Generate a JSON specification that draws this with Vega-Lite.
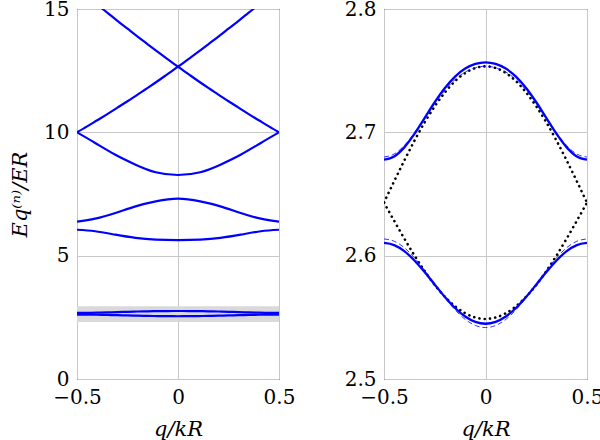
{
  "$schema": "https://vega.github.io/schema/vega-lite/v6.json",
  "background": "white",
  "padding": {"left": 9, "top": -2, "right": 5, "bottom": 0},
  "datasets": {
    "grid": [
      {"q": -0.5, "U": 2.6778, "L": 2.6103, "DU": 2.68, "DL": 2.6136, "TU": 2.643, "TL": 2.643, "A": 15.87, "B": 10.0},
      {"q": -0.45, "U": 2.6804, "L": 2.6086, "DU": 2.6824, "DL": 2.6117, "TU": 2.6603, "TL": 2.6283, "A": 15.52, "B": 10.24},
      {"q": -0.4, "U": 2.6878, "L": 2.6037, "DU": 2.6893, "DL": 2.6065, "TU": 2.6771, "TL": 2.6139, "A": 15.18, "B": 10.49},
      {"q": -0.35, "U": 2.6987, "L": 2.5961, "DU": 2.6996, "DL": 2.5983, "TU": 2.6932, "TL": 2.6002, "A": 14.85, "B": 10.74},
      {"q": -0.3, "U": 2.7115, "L": 2.5867, "DU": 2.7115, "DL": 2.5882, "TU": 2.708, "TL": 2.5876, "A": 14.52, "B": 11.0},
      {"q": -0.25, "U": 2.7244, "L": 2.5765, "DU": 2.7235, "DL": 2.577, "TU": 2.7211, "TL": 2.5763, "A": 14.2, "B": 11.26},
      {"q": -0.2, "U": 2.7359, "L": 2.5665, "DU": 2.7342, "DL": 2.566, "TU": 2.7324, "TL": 2.5667, "A": 13.88, "B": 11.53},
      {"q": -0.15, "U": 2.7452, "L": 2.5576, "DU": 2.7428, "DL": 2.5561, "TU": 2.7415, "TL": 2.559, "A": 13.57, "B": 11.8},
      {"q": -0.1, "U": 2.7517, "L": 2.5507, "DU": 2.7489, "DL": 2.5483, "TU": 2.7481, "TL": 2.5533, "A": 13.26, "B": 12.08},
      {"q": -0.05, "U": 2.7555, "L": 2.5463, "DU": 2.7524, "DL": 2.5434, "TU": 2.7521, "TL": 2.5499, "A": 12.96, "B": 12.37},
      {"q": 0, "U": 2.7568, "L": 2.5448, "DU": 2.7536, "DL": 2.5417, "TU": 2.7535, "TL": 2.5487, "A": 12.66, "B": 12.66},
      {"q": 0.05, "U": 2.7555, "L": 2.5463, "DU": 2.7524, "DL": 2.5434, "TU": 2.7521, "TL": 2.5499, "A": 12.37, "B": 12.96},
      {"q": 0.1, "U": 2.7517, "L": 2.5507, "DU": 2.7489, "DL": 2.5483, "TU": 2.7481, "TL": 2.5533, "A": 12.08, "B": 13.26},
      {"q": 0.15, "U": 2.7452, "L": 2.5576, "DU": 2.7428, "DL": 2.5561, "TU": 2.7415, "TL": 2.559, "A": 11.8, "B": 13.57},
      {"q": 0.2, "U": 2.7359, "L": 2.5665, "DU": 2.7342, "DL": 2.566, "TU": 2.7324, "TL": 2.5667, "A": 11.53, "B": 13.88},
      {"q": 0.25, "U": 2.7244, "L": 2.5765, "DU": 2.7235, "DL": 2.577, "TU": 2.7211, "TL": 2.5763, "A": 11.26, "B": 14.2},
      {"q": 0.3, "U": 2.7115, "L": 2.5867, "DU": 2.7115, "DL": 2.5882, "TU": 2.708, "TL": 2.5876, "A": 11.0, "B": 14.52},
      {"q": 0.35, "U": 2.6987, "L": 2.5961, "DU": 2.6996, "DL": 2.5983, "TU": 2.6932, "TL": 2.6002, "A": 10.74, "B": 14.85},
      {"q": 0.4, "U": 2.6878, "L": 2.6037, "DU": 2.6893, "DL": 2.6065, "TU": 2.6771, "TL": 2.6139, "A": 10.49, "B": 15.18},
      {"q": 0.45, "U": 2.6804, "L": 2.6086, "DU": 2.6824, "DL": 2.6117, "TU": 2.6603, "TL": 2.6283, "A": 10.24, "B": 15.52},
      {"q": 0.5, "U": 2.6778, "L": 2.6103, "DU": 2.68, "DL": 2.6136, "TU": 2.643, "TL": 2.643, "A": 10.0, "B": 15.87}
    ],
    "bands": [
      {"q": -0.5, "b3": 6.05, "b4": 6.38, "b5": 10.0},
      {"q": -0.41, "b3": 5.99, "b4": 6.5, "b5": 9.57},
      {"q": -0.31, "b3": 5.85, "b4": 6.73, "b5": 9.09},
      {"q": -0.21, "b3": 5.72, "b4": 7.0, "b5": 8.69},
      {"q": -0.11, "b3": 5.65, "b4": 7.2, "b5": 8.38},
      {"q": 0, "b3": 5.63, "b4": 7.31, "b5": 8.27},
      {"q": 0.11, "b3": 5.65, "b4": 7.2, "b5": 8.38},
      {"q": 0.21, "b3": 5.72, "b4": 7.0, "b5": 8.69},
      {"q": 0.31, "b3": 5.85, "b4": 6.73, "b5": 9.09},
      {"q": 0.41, "b3": 5.99, "b4": 6.5, "b5": 9.57},
      {"q": 0.5, "b3": 6.05, "b4": 6.38, "b5": 10.0}
    ],
    "zoombox": [
      {"q": -0.5, "q1": 0.5, "E": 2.31, "E1": 2.95}
    ]
  },
  "config": {
    "font": "DejaVu Serif",
    "view": {"stroke": "black", "strokeWidth": 1},
    "axis": {
      "domain": false,
      "ticks": false,
      "grid": true,
      "gridColor": "#c8c8c8",
      "gridWidth": 1,
      "labelFont": "DejaVu Serif",
      "labelFontSize": 20,
      "labelColor": "black",
      "labelPadding": 8,
      "labelFlush": false,
      "titleFont": "DejaVu Serif",
      "titleFontSize": 21,
      "titleFontWeight": "normal",
      "titleFontStyle": "italic",
      "titleColor": "black"
    },
    "axisX": {"titlePadding": 11},
    "concat": {"spacing": 47}
  },
  "hconcat": [
    {
      "width": 202,
      "height": 370,
      "layer": [
        {
          "data": {"name": "zoombox"},
          "mark": {"type": "rect", "color": "#d9d9d9"},
          "encoding": {
            "x": {"field": "q", "type": "quantitative", "scale": {"domain": [-0.5, 0.5], "nice": false}, "axis": {"values": [-0.5, 0, 0.5], "format": "~g", "title": "q/kR"}},
            "x2": {"field": "q1"},
            "y": {"field": "E", "type": "quantitative", "scale": {"domain": [0, 15], "nice": false}, "axis": {"values": [0, 5, 10, 15], "format": "~g", "title": "Eq⁽ⁿ⁾/ER", "titlePadding": 13}},
            "y2": {"field": "E1"}
          }
        },
        {
          "data": {"name": "grid"},
          "transform": [{"fold": ["U", "L", "A", "B"], "as": ["curve", "E"]}],
          "mark": {"type": "line", "color": "#0000ff", "strokeWidth": 2.2, "interpolate": "monotone", "clip": true},
          "encoding": {
            "x": {"field": "q", "type": "quantitative", "scale": {"domain": [-0.5, 0.5], "nice": false}, "axis": {"values": [-0.5, 0, 0.5], "format": "~g", "title": "q/kR"}},
            "y": {"field": "E", "type": "quantitative", "scale": {"domain": [0, 15], "nice": false}, "axis": {"values": [0, 5, 10, 15], "format": "~g", "title": "Eq⁽ⁿ⁾/ER", "titlePadding": 13}},
            "detail": {"field": "curve"}
          }
        },
        {
          "data": {"name": "bands"},
          "transform": [{"fold": ["b3", "b4", "b5"], "as": ["curve", "E"]}],
          "mark": {"type": "line", "color": "#0000ff", "strokeWidth": 2.2, "interpolate": "natural", "clip": true},
          "encoding": {
            "x": {"field": "q", "type": "quantitative", "scale": {"domain": [-0.5, 0.5], "nice": false}, "axis": {"values": [-0.5, 0, 0.5], "format": "~g", "title": "q/kR"}},
            "y": {"field": "E", "type": "quantitative", "scale": {"domain": [0, 15], "nice": false}, "axis": {"values": [0, 5, 10, 15], "format": "~g", "title": "Eq⁽ⁿ⁾/ER", "titlePadding": 13}},
            "detail": {"field": "curve"}
          }
        }
      ]
    },
    {
      "width": 203,
      "height": 370,
      "layer": [
        {
          "data": {"name": "grid"},
          "transform": [{"fold": ["TU", "TL"], "as": ["curve", "E"]}],
          "mark": {"type": "line", "color": "black", "strokeWidth": 2.6, "strokeCap": "round", "strokeDash": [0.1, 5.2], "interpolate": "monotone", "clip": true},
          "encoding": {
            "x": {"field": "q", "type": "quantitative", "scale": {"domain": [-0.5, 0.5], "nice": false}, "axis": {"values": [-0.5, 0, 0.5], "format": "~g", "title": "q/kR"}},
            "y": {"field": "E", "type": "quantitative", "scale": {"domain": [2.5, 2.8], "nice": false}, "axis": {"values": [2.5, 2.6, 2.7, 2.8], "format": ".1f", "title": null}},
            "detail": {"field": "curve"}
          }
        },
        {
          "data": {"name": "grid"},
          "transform": [{"fold": ["U", "L"], "as": ["curve", "E"]}],
          "mark": {"type": "line", "color": "#0000ff", "strokeWidth": 2.3, "interpolate": "monotone", "clip": true},
          "encoding": {
            "x": {"field": "q", "type": "quantitative", "scale": {"domain": [-0.5, 0.5], "nice": false}, "axis": {"values": [-0.5, 0, 0.5], "format": "~g", "title": "q/kR"}},
            "y": {"field": "E", "type": "quantitative", "scale": {"domain": [2.5, 2.8], "nice": false}, "axis": {"values": [2.5, 2.6, 2.7, 2.8], "format": ".1f", "title": null}},
            "detail": {"field": "curve"}
          }
        },
        {
          "data": {"name": "grid"},
          "transform": [{"fold": ["DU", "DL"], "as": ["curve", "E"]}],
          "mark": {"type": "line", "color": "#0000ff", "strokeWidth": 0.8, "strokeDash": [5, 3], "interpolate": "monotone", "clip": true},
          "encoding": {
            "x": {"field": "q", "type": "quantitative", "scale": {"domain": [-0.5, 0.5], "nice": false}, "axis": {"values": [-0.5, 0, 0.5], "format": "~g", "title": "q/kR"}},
            "y": {"field": "E", "type": "quantitative", "scale": {"domain": [2.5, 2.8], "nice": false}, "axis": {"values": [2.5, 2.6, 2.7, 2.8], "format": ".1f", "title": null}},
            "detail": {"field": "curve"}
          }
        }
      ]
    }
  ]
}
